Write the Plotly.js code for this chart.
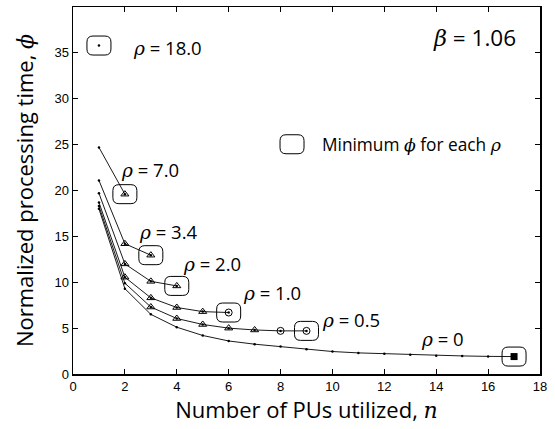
<!DOCTYPE html>
<html><head><meta charset="utf-8">
<script src="https://cdn.plot.ly/plotly-3.0.1.min.js"></script>
<style>html,body{margin:0;padding:0;background:#fff}</style>
</head><body><div id="chart" style="width:555px;height:429px"></div>
<script>
// ---- data ----
const rhoNames = ['18.0', '7.0', '3.4', '2.0', '1.0', '0.5', '0'];
const n_r18 = [1];
const phi_r18 = [35.8];
const n_r7 = [1, 2];
const phi_r7 = [24.7, 19.6];
const n_r34 = [1, 2, 3];
const phi_r34 = [21.1, 14.2, 12.95];
const n_r2 = [1, 2, 3, 4];
const phi_r2 = [19.7, 12.0, 10.1, 9.6];
const n_r1 = [1, 2, 3, 4, 5, 6];
const phi_r1 = [18.7, 10.55, 8.3, 7.25, 6.8, 6.7];
const n_r05 = [1, 2, 3, 4, 5, 6, 7, 8, 9];
const phi_r05 = [18.3, 9.9, 7.3, 6.05, 5.4, 5.0, 4.8, 4.7, 4.7];
const n_r0 = [1, 2, 3, 4, 5, 6, 7, 8, 9, 10, 11, 12, 13, 14, 15, 16, 17];
const phi_r0 = [18.0, 9.3, 6.5, 5.1, 4.2, 3.6, 3.25, 3.0, 2.7, 2.45, 2.3, 2.2, 2.1, 2.0, 1.97, 1.92, 1.9];
// which n carry which marker type
const tri_r7 = [2], tri_r34 = [2, 3], tri_r2 = [2, 3, 4], tri_r1 = [2, 3, 4, 5], tri_r05 = [3, 4, 5, 6, 7];
const circ_r1 = [6], circ_r05 = [8, 9];
const sq_r0 = [17];

const series = [
  {n: n_r18, phi: phi_r18, tri: [], circ: [], sq: []},
  {n: n_r7, phi: phi_r7, tri: tri_r7, circ: [], sq: []},
  {n: n_r34, phi: phi_r34, tri: tri_r34, circ: [], sq: []},
  {n: n_r2, phi: phi_r2, tri: tri_r2, circ: [], sq: []},
  {n: n_r1, phi: phi_r1, tri: tri_r1, circ: circ_r1, sq: []},
  {n: n_r05, phi: phi_r05, tri: tri_r05, circ: circ_r05, sq: []},
  {n: n_r0, phi: phi_r0, tri: [], circ: [], sq: sq_r0}
];

const SERIF = "'DejaVu Serif', serif";
const SANS = "'Open Sans', sans-serif";
const TICK = "'Liberation Sans', Arial, sans-serif";
const m = s => `<span style="font-family:${SERIF}"><i>${s}</i></span>`;

const traces = [];
const shapes = [];
function rr(w, h, r) {
  const x0 = -w / 2, x1 = w / 2, y0 = -h / 2, y1 = h / 2;
  return `M ${x0 + r},${y0} L ${x1 - r},${y0} Q ${x1},${y0} ${x1},${y0 + r} L ${x1},${y1 - r} Q ${x1},${y1} ${x1 - r},${y1} L ${x0 + r},${y1} Q ${x0},${y1} ${x0},${y1 - r} L ${x0},${y0 + r} Q ${x0},${y0} ${x0 + r},${y0} Z`;
}
const boxPath = rr(24, 19, 6);

series.forEach(s => {
  const pick = arr => arr.map(v => s.phi[s.n.indexOf(v)]);
  traces.push({x: s.n, y: s.phi, mode: 'lines+markers', line: {color: '#000', width: 0.9},
    marker: {symbol: 'circle', size: 2.5, color: '#000'}, hoverinfo: 'skip', showlegend: false});
  if (s.tri.length) traces.push({x: s.tri, y: pick(s.tri), mode: 'markers',
    marker: {symbol: 'triangle-up-open', size: 7, color: '#000', line: {width: 1, color: '#000'}}, showlegend: false});
  if (s.circ.length) traces.push({x: s.circ, y: pick(s.circ), mode: 'markers',
    marker: {symbol: 'circle-open', size: 7, color: '#000', line: {width: 1, color: '#000'}}, showlegend: false});
  if (s.sq.length) traces.push({x: s.sq, y: pick(s.sq), mode: 'markers',
    marker: {symbol: 'square', size: 7, color: '#000'}, showlegend: false});
  const last = s.n.length - 1;
  shapes.push({type: 'path', xref: 'x', yref: 'y', xsizemode: 'pixel', ysizemode: 'pixel',
    xanchor: s.n[last], yanchor: s.phi[last], path: boxPath, line: {color: '#000', width: 1}});
});
// legend box
shapes.push({type: 'path', xref: 'paper', yref: 'paper', xsizemode: 'pixel', ysizemode: 'pixel',
  xanchor: 0.469, yanchor: 0.626, path: boxPath, line: {color: '#000', width: 1}});

const labelPos = [[3.66, 35.6], [2.97, 22.3], [3.68, 15.5], [5.34, 12.05], [7.67, 8.9], [10.72, 5.9], [14.23, 3.9]];
const annotations = rhoNames.map((r, i) => ({
  x: labelPos[i][0], y: labelPos[i][1], xref: 'x', yref: 'y', showarrow: false,
  xanchor: 'center', yanchor: 'middle', text: `${m('ρ')} = ${r}`,
  font: {family: SANS, size: 18.5, color: '#000'}
}));
annotations.push({x: 0.953, y: 0.917, xref: 'paper', yref: 'paper', showarrow: false,
  xanchor: 'right', yanchor: 'middle', text: `${m('β')} = 1.06`, font: {family: SANS, size: 22.5, color: '#000'}});
annotations.push({x: 0.529, y: 0.624, xref: 'paper', yref: 'paper', showarrow: false,
  xanchor: 'left', yanchor: 'middle', text: `Minimum ${m('ϕ')} for each ${m('ρ')}`, font: {family: SANS, size: 17.3, color: '#000'}});

const axisCommon = {showgrid: false, zeroline: false, showline: true, linecolor: '#000', linewidth: 1.5,
  mirror: 'ticks', ticks: 'inside', ticklen: 5, tickwidth: 1, tickcolor: '#000',
  tickfont: {family: TICK, size: 13, color: '#000'}};

const layout = {
  width: 555, height: 429,
  margin: {l: 73, r: 15, t: 6.5, b: 55},
  paper_bgcolor: '#fff', plot_bgcolor: '#fff',
  showlegend: false,
  xaxis: Object.assign({}, axisCommon, {range: [0, 18], dtick: 2, tick0: 0,
    title: {text: `Number of PUs utilized, ${m('n')}`, font: {family: SANS, size: 22, color: '#000'}, standoff: 6}}),
  yaxis: Object.assign({}, axisCommon, {range: [0, 40], dtick: 5, tick0: 0,
    title: {text: `Normalized processing time, ${m('ϕ')}`, font: {family: SANS, size: 22, color: '#000'}, standoff: 14}}),
  shapes: shapes,
  annotations: annotations
};

Plotly.newPlot('chart', traces, layout, {staticPlot: true, displayModeBar: false});
</script>
</body></html>
